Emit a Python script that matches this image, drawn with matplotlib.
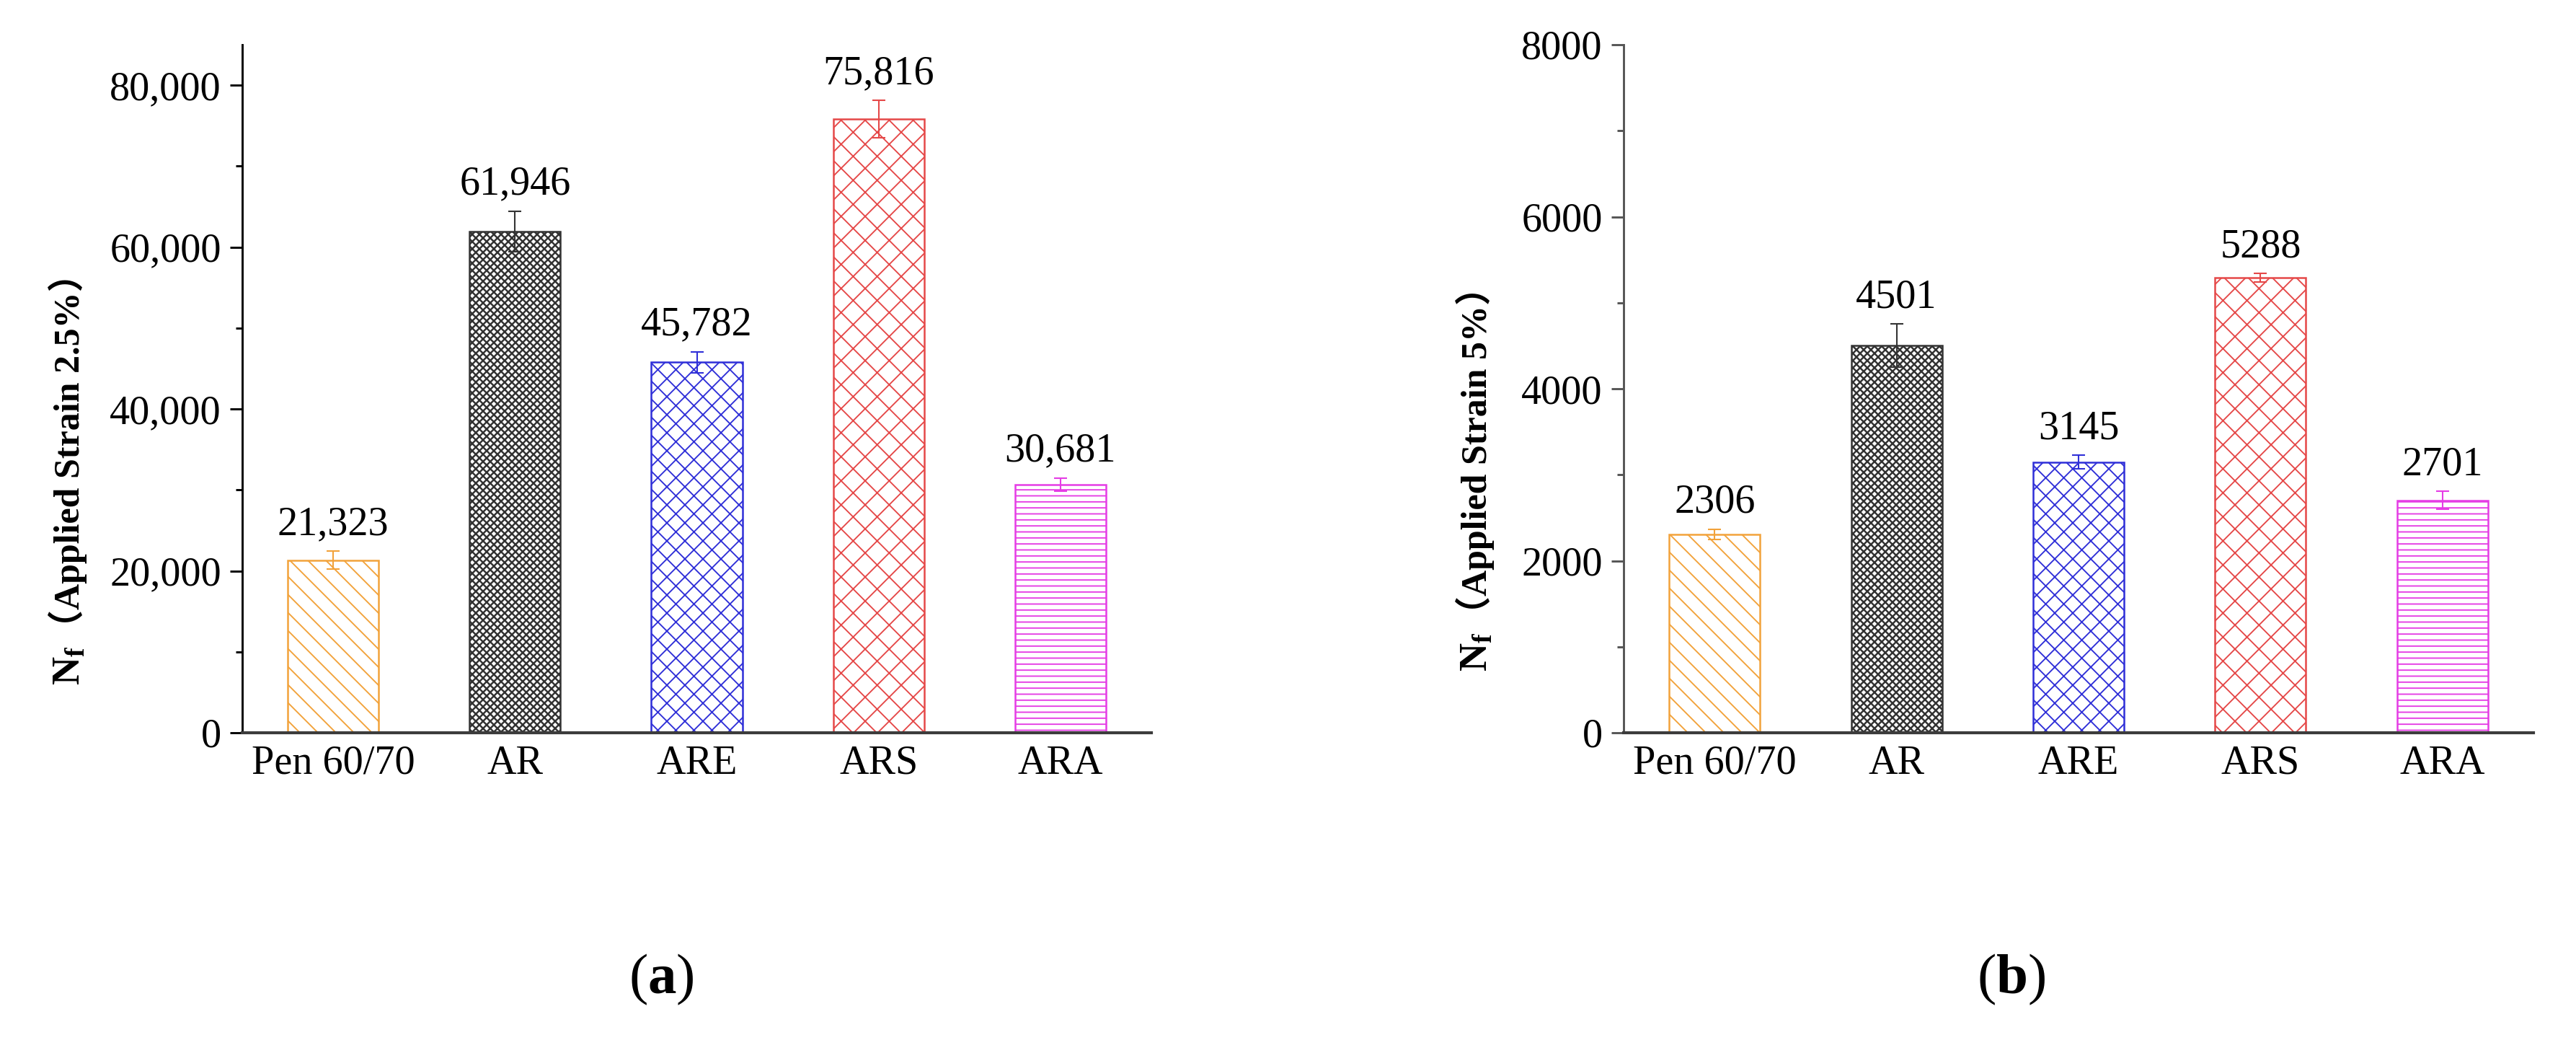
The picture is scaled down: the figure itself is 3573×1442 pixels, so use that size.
import numpy as np
import matplotlib
matplotlib.use('Agg')
import matplotlib.pyplot as plt
from matplotlib.ticker import MultipleLocator, FuncFormatter

plt.rcParams['font.family'] = ['Liberation Serif', 'Noto Sans CJK SC']
plt.rcParams['mathtext.fontset'] = 'custom'
plt.rcParams['mathtext.rm'] = 'Liberation Serif'
plt.rcParams['mathtext.bf'] = 'Liberation Serif:bold'
plt.rcParams['mathtext.it'] = 'Liberation Serif:italic'
plt.rcParams['hatch.linewidth'] = 0.45

# ---- data ----
categories = ['Pen 60/70', 'AR', 'ARE', 'ARS', 'ARA']
nf_25 = [21323, 61946, 45782, 75816, 30681]
err_25 = [1100, 2500, 1300, 2300, 800]
nf_5 = [2306, 4501, 3145, 5288, 2701]
err_5 = [60, 250, 80, 50, 105]

# ---- styles ----
colors = ['#F2A23A', '#333333', '#2F2FD8', '#E54848', '#E53CE5']
hatches = ['\\' * 4, 'x' * 10, 'x' * 4, 'x' * 3, '-' * 6]
hatch_lw = [0.45, 0.6, 0.45, 0.45, 0.45]
FS = 13.5

W, H, DPI = 3573, 1442, 300
fig = plt.figure(figsize=(W / DPI, H / DPI), dpi=DPI)
ax1 = fig.add_axes([336 / W, 1 - 1016 / H, 1261 / W, 954 / H])
ax2 = fig.add_axes([2252 / W, 1 - 1016 / H, 1262 / W, 954 / H])


def draw_panel(ax, vals, errs, ymax, major, fmt):
    x = np.arange(len(categories))
    bars = ax.bar(x, vals, width=0.5, color='white', edgecolor=colors, linewidth=0.6, zorder=2)
    for b, h, lw in zip(bars, hatches, hatch_lw):
        b.set_hatch(h)
        try:
            b.set_hatch_linewidth(lw)
        except AttributeError:
            pass
    for xi, v, e, c in zip(x, vals, errs, colors):
        ax.errorbar(xi, v, yerr=e, color=c, elinewidth=0.5, capsize=2.2, capthick=0.5, zorder=3)
        ax.annotate(fmt(v), (xi, v + e), xytext=(0, 5.5), textcoords='offset points',
                    ha='center', va='baseline', fontsize=FS)
    ax.set_xlim(-0.5, len(categories) - 0.5)
    ax.set_ylim(0, ymax)
    ax.set_xticks(x)
    ax.set_xticklabels(categories, fontsize=FS)
    ax.yaxis.set_major_locator(MultipleLocator(major))
    ax.yaxis.set_minor_locator(MultipleLocator(major / 2))
    ax.yaxis.set_major_formatter(FuncFormatter(lambda v, p: fmt(v)))
    ax.tick_params(axis='y', which='major', length=4, width=0.7, labelsize=FS, pad=3)
    ax.tick_params(axis='y', which='minor', length=2.2, width=0.7)
    ax.tick_params(axis='x', length=0, pad=4)
    for s in ['top', 'right']:
        ax.spines[s].set_visible(False)
    ax.spines['left'].set_linewidth(0.7)
    ax.spines['bottom'].set_linewidth(1.0)
    ax.spines['bottom'].set_color('#3c3c3c')


draw_panel(ax1, nf_25, err_25, 85000, 20000, lambda v: f'{v:,.0f}')
draw_panel(ax2, nf_5, err_5, 8000, 2000, lambda v: f'{v:.0f}')
ax2.spines['left'].set_color('#555555')
ax2.tick_params(axis='y', which='both', color='#555555')


def nf_ylabel(x_fig, y_center, rest):
    # bold N with subscript f, then the bracketed strain text, stacked upwards
    pieces = [
        (r'$\mathbf{N_f}$', dict(fontsize=13)),
        (rest, dict(fontsize=12, fontweight='bold')),
    ]
    texts = [fig.text(x_fig, 0, s, rotation=90, rotation_mode='anchor',
                      ha='left', va='baseline', **kw) for s, kw in pieces]
    fig.canvas.draw()
    r = fig.canvas.get_renderer()
    hs = [t.get_window_extent(r).height / H for t in texts]
    y = y_center - sum(hs) / 2
    for t, h in zip(texts, hs):
        t.set_y(y)
        y += h


nf_ylabel(110 / W, 1 - 652 / H, '（Applied Strain 2.5%）')
nf_ylabel(2062 / W, 1 - 652 / H, '（Applied Strain 5%）')

fig.text(917 / W, 1 - 1358 / H, r'($\mathbf{a}$)', ha='center', va='center', fontsize=19)
fig.text(2790 / W, 1 - 1358 / H, r'($\mathbf{b}$)', ha='center', va='center', fontsize=19)

fig.savefig('out.png', dpi=DPI, facecolor='white')
